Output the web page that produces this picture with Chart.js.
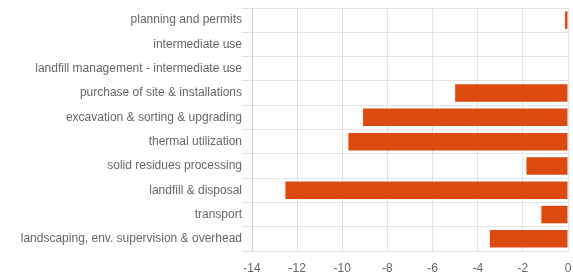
<!DOCTYPE html>
<html>
<head>
<meta charset="utf-8">
<script src="https://cdn.jsdelivr.net/npm/chart.js@4"></script>
<style>
  html, body { margin: 0; padding: 0; background: #fff; }
  #wrap { width: 573px; height: 275px; }
</style>
</head>
<body>
<div id="wrap"><canvas id="myChart"></canvas></div>
<script>
// categories and values
const categories = [
  "planning and permits",
  "intermediate use",
  "landfill management - intermediate use",
  "purchase of site & installations",
  "excavation & sorting & upgrading",
  "thermal utilization",
  "solid residues processing",
  "landfill & disposal",
  "transport",
  "landscaping, env. supervision & overhead"
];
const values = [-0.13, 0, 0, -5.0, -9.08, -9.73, -1.84, -12.52, -1.18, -3.46];
const xTicks = [-14, -12, -10, -8, -6, -4, -2, 0];

let ctx = document.getElementById("myChart").getContext("2d");
let chart = new Chart(ctx, {
  type: "bar",
  data: {
    labels: categories,
    datasets: [
      {
        data: values,
        backgroundColor: "#dc4a10",
        borderWidth: 0,
        barPercentage: 0.9,
        categoryPercentage: 0.8,
      },
    ],
  },
  options: {
    indexAxis: "y",
    responsive: true,
    maintainAspectRatio: false,
    animation: false,
    layout: { padding: { top: 8, right: 5, left: 0, bottom: 0 } },
    plugins: { legend: { display: false }, tooltip: { enabled: false } },
    scales: {
      x: {
        type: "linear",
        min: xTicks[0],
        max: xTicks[xTicks.length - 1],
        afterBuildTicks: (axis) => {
          axis.ticks = xTicks.map((v) => ({ value: v }));
        },
        afterFit: (axis) => {
          axis.height = 24;
          axis.paddingRight = 0;
          axis.paddingLeft = 0;
        },
        grid: { color: "#e2e2e2", drawTicks: false },
        border: { display: false },
        ticks: {
          color: "#666",
          padding: 10,
          font: { family: "Liberation Sans", size: 12 },
        },
      },
      y: {
        afterFit: (axis) => {
          axis.width = 252;
        },
        grid: { color: "#e2e2e2", offset: true, tickLength: 10 },
        border: { color: "#cfcfcf" },
        ticks: {
          color: "#666",
          padding: 0,
          font: { family: "Liberation Sans", size: 12 },
        },
      },
    },
  },
});
</script>
</body>
</html>
